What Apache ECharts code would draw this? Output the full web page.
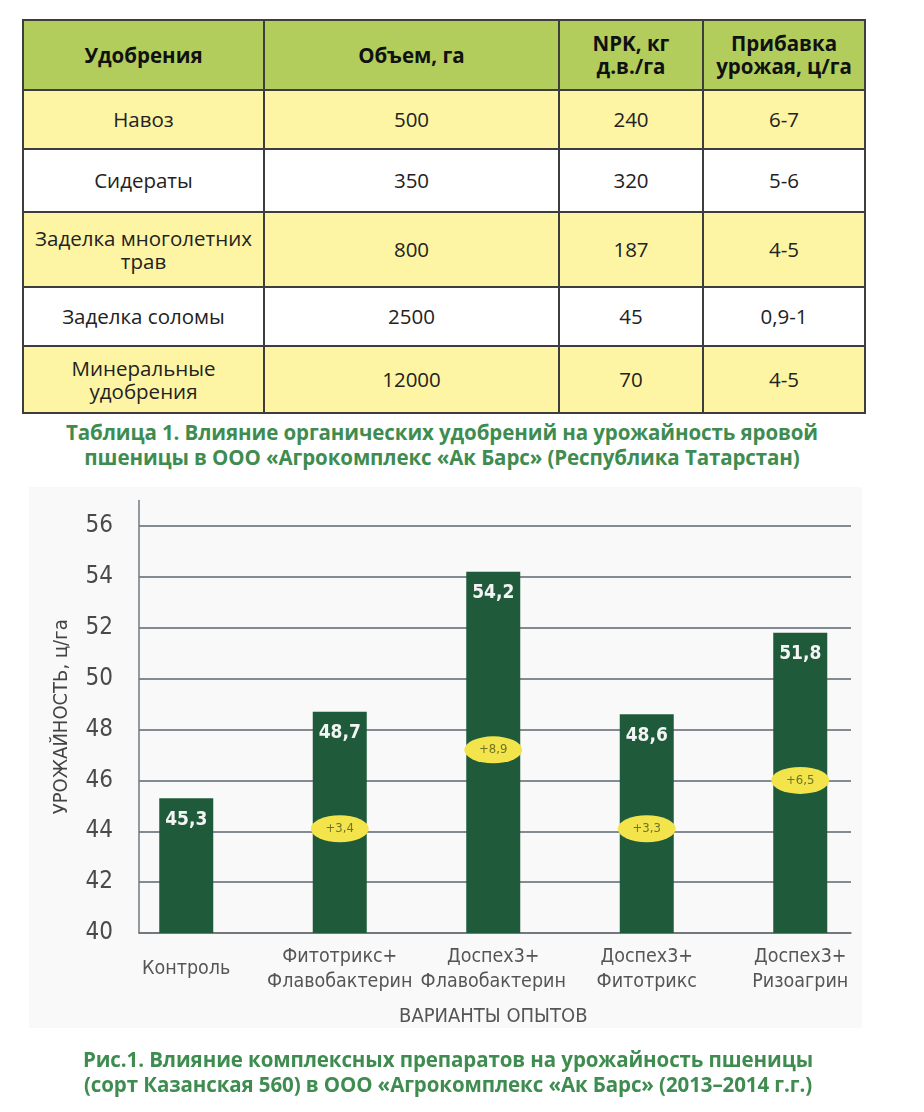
<!DOCTYPE html>
<html>
<head>
<meta charset="utf-8">
<script src="https://cdn.jsdelivr.net/npm/echarts@6/dist/echarts.min.js"></script>
<style>
  html, body { margin: 0; padding: 0; background: #ffffff; }
  body { width: 924px; height: 1112px; position: relative; overflow: hidden; font-family: "Open Sans", "Noto Sans", sans-serif; }
  #tbl { position: absolute; left: 22px; top: 19px; width: 842px; border-collapse: collapse; table-layout: fixed; }
  #tbl td, #tbl th { border: 2px solid #3d3d3d; text-align: center; vertical-align: middle; padding: 0 2px; color: #222; }
  #tbl th { background: #b2cd5b; font-weight: 700; font-size: 20.5px; line-height: 23px; color: #111; }
  #tbl td { font-size: 20.5px; line-height: 23px; }
  #tbl tr.y td { background: #fdf5a3; }
  #tbl tr.w td { background: #ffffff; }
  .cap { position: absolute; left: 0; width: 884px; text-align: center; color: #3e8c4f; font-weight: 700; font-size: 20.5px; line-height: 25px; letter-spacing: -0.1px; }
  #panel { position: absolute; left: 29px; top: 487px; width: 833px; height: 541px; background: #f9f9f9; }
  #chart { position: absolute; left: 0; top: 470px; width: 924px; height: 642px; }
</style>
</head>
<body>
<table id="tbl"></table>
<div class="cap" id="cap1" style="top:420px;"></div>
<div id="panel"></div>
<div id="chart"></div>
<div class="cap" id="cap2" style="top:1047px; left:6px;"></div>
<script>
// ---------- Table data ----------
const tableHeaders = ['Удобрения', 'Объем, га', 'NPK, кг<br>д.в./га', 'Прибавка<br>урожая, ц/га'];
const fertilizers = ['Навоз', 'Сидераты', 'Заделка многолетних<br>трав', 'Заделка соломы', 'Минеральные<br>удобрения'];
const volumes = ['500', '350', '800', '2500', '12000'];
const npkValues = ['240', '320', '187', '45', '70'];
const yieldIncrease = ['6-7', '5-6', '4-5', '0,9-1', '4-5'];
const tableCaption = 'Таблица 1. Влияние органических удобрений на урожайность яровой<br>пшеницы в ООО «Агрокомплекс «Ак Барс» (Республика Татарстан)';

// ---------- Chart data ----------
const categories = ['Контроль', 'Фитотрикс+\nФлавобактерин', 'Доспех3+\nФлавобактерин', 'Доспех3+\nФитотрикс', 'Доспех3+\nРизоагрин'];
const yieldValues = [45.3, 48.7, 54.2, 48.6, 51.8];
const increments = [null, 3.4, 8.9, 3.3, 6.5];
const badgeLevels = [null, 44.1, 47.2, 44.1, 46.0];
const yAxisName = 'УРОЖАЙНОСТЬ, ц/га';
const xAxisName = 'ВАРИАНТЫ ОПЫТОВ';
const chartCaption = 'Рис.1. Влияние комплексных препаратов на урожайность пшеницы<br>(сорт Казанская 560) в ООО «Агрокомплекс «Ак Барс» (2013–2014 г.г.)';

// ---------- Build table ----------
const colWidths = [241, 295, 144, 162];
const rowHeights = [59, 63, 75, 59, 67];
let html = '<colgroup>' + colWidths.map(w => '<col style="width:' + w + 'px">').join('') + '</colgroup>';
html += '<tr style="height:70px">' + tableHeaders.map(h => '<th>' + h + '</th>').join('') + '</tr>';
for (let i = 0; i < fertilizers.length; i++) {
  html += '<tr class="' + (i % 2 === 0 ? 'y' : 'w') + '" style="height:' + rowHeights[i] + 'px">' +
    '<td>' + fertilizers[i] + '</td><td>' + volumes[i] + '</td><td>' + npkValues[i] + '</td><td>' + yieldIncrease[i] + '</td></tr>';
}
document.getElementById('tbl').innerHTML = html;
document.getElementById('cap1').innerHTML = tableCaption;
document.getElementById('cap2').innerHTML = chartCaption;

// ---------- Chart ----------
const narrow = '"Liberation Sans Narrow", "DejaVu Sans Condensed", "Open Sans", sans-serif';
const fmt = v => v.toFixed(1).replace('.', ',');
const chart = echarts.init(document.getElementById('chart'), null, { renderer: 'canvas' });
chart.setOption({
  animation: false,
  backgroundColor: 'transparent',
  grid: [
    { left: 139, right: 73, top: 56, bottom: 179 },
    { left: 109.5, right: 47, top: 30.6, bottom: 179 }
  ],
  xAxis: [
    {
      gridIndex: 0, type: 'category', data: categories,
      axisLine: { show: true, lineStyle: { color: '#6d7378', width: 1.5 } },
      axisTick: { show: false }, axisLabel: { show: false }, splitLine: { show: false }
    },
    {
      gridIndex: 1, type: 'category', data: categories,
      axisLine: { show: false }, axisTick: { show: false },
      axisLabel: { color: '#555', fontSize: 19.5, lineHeight: 25, fontFamily: narrow, verticalAlign: 'middle', margin: 36, interval: 0 },
      name: xAxisName, nameLocation: 'middle', nameGap: 74,
      nameTextStyle: { color: '#555', fontSize: 20, fontFamily: narrow }
    }
  ],
  yAxis: [
    {
      gridIndex: 0, type: 'value', min: 40, max: 56, interval: 2,
      axisLine: { show: false }, axisTick: { show: false },
      axisLabel: { color: '#4a4a4a', fontSize: 24, fontFamily: narrow, margin: 26 },
      splitLine: { show: true, lineStyle: { color: '#5d6472', width: 1.5 } }
    },
    {
      gridIndex: 1, type: 'value', min: 40, max: 57, offset: -29.5,
      axisLine: { show: true, lineStyle: { color: '#6d7a80', width: 1.5 } },
      axisTick: { show: false }, axisLabel: { show: false }, splitLine: { show: false },
      name: yAxisName, nameLocation: 'middle', nameGap: 67,
      nameTextStyle: { color: '#444', fontSize: 20, fontFamily: narrow }
    }
  ],
  series: [
    {
      type: 'bar', xAxisIndex: 1, yAxisIndex: 1, data: yieldValues, barWidth: 54,
      itemStyle: { color: '#1f5b3b' },
      label: { show: true, position: 'insideTop', distance: 12, color: '#f4f4f4', fontSize: 19, fontWeight: 600, fontFamily: narrow, formatter: p => fmt(p.value) },
      z: 2
    },
    {
      type: 'scatter', xAxisIndex: 1, yAxisIndex: 1,
      data: categories.map((c, i) => increments[i] == null ? null : { value: [c, badgeLevels[i]], inc: increments[i] }).filter(d => d),
      symbol: 'path://M0,50A50,50 0 1,1 100,50A50,50 0 1,1 0,50Z',
      symbolSize: [58, 27],
      itemStyle: { color: '#f2e44a', opacity: 1 },
      label: { show: true, position: 'inside', color: '#6e7328', fontSize: 13, fontFamily: narrow, formatter: p => '+' + fmt(p.data.inc) },
      z: 5
    }
  ]
});
</script>
</body>
</html>
